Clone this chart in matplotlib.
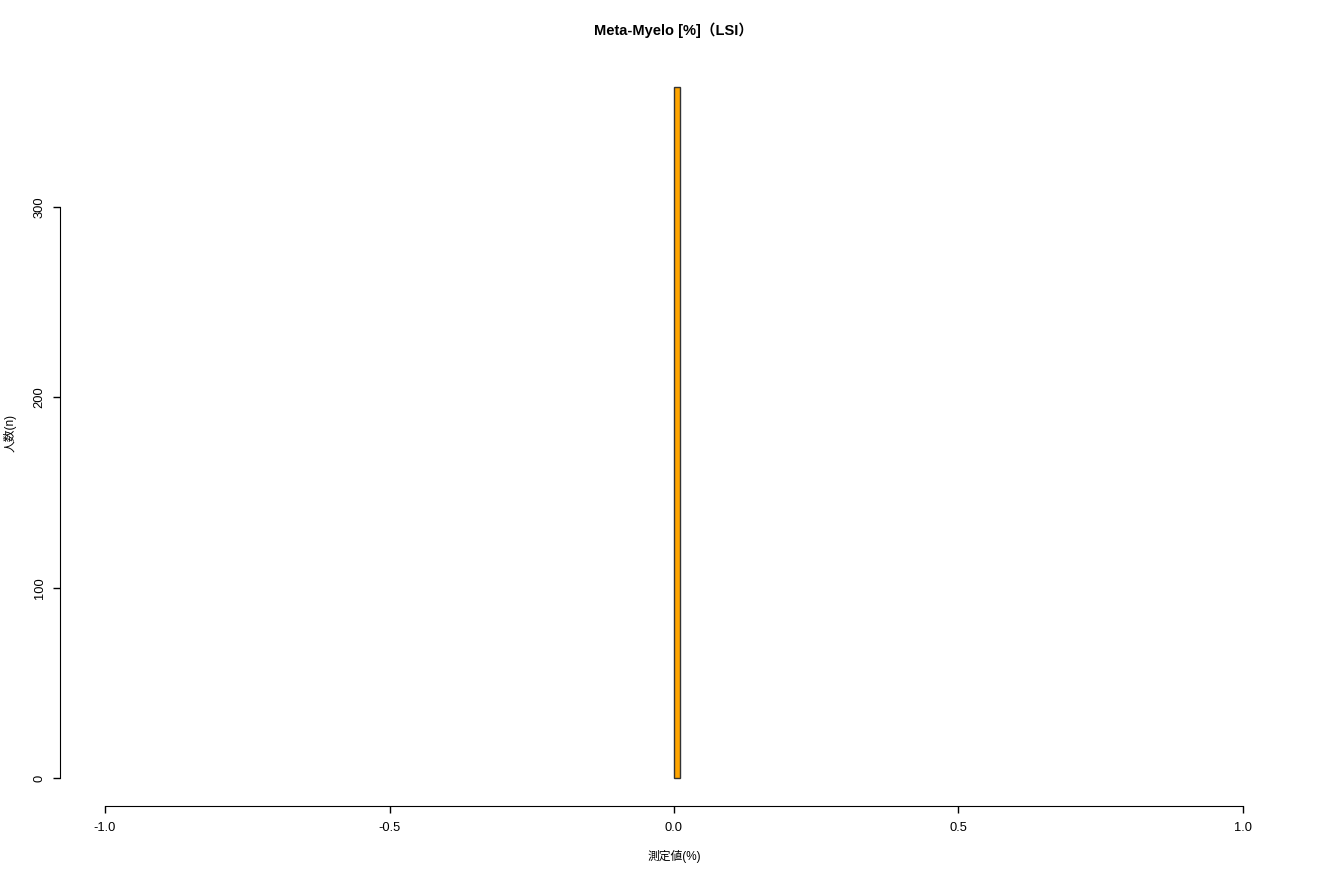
import matplotlib
matplotlib.use("Agg")
import matplotlib.pyplot as plt

plt.rcParams['font.family'] = ['Liberation Sans', 'Noto Sans CJK JP', 'DejaVu Sans']

# histogram data
bin_edges = [0.0, 0.01]
counts = [363]
x_ticks = [-1.0, -0.5, 0.0, 0.5, 1.0]
x_ticklabels = ["-1.0", "-0.5", "0.0", "0.5", "1.0"]
y_ticks = [0, 100, 200, 300]

fig = plt.figure(figsize=(13.2, 8.8), dpi=100)
ax = fig.add_axes([0.0451, 0.0845, 0.9310, 0.8478])

lefts = bin_edges[:-1]
widths = [b - a for a, b in zip(bin_edges[:-1], bin_edges[1:])]
ax.bar(lefts, counts, width=widths, align='edge', color='#FFA500',
       edgecolor='#333333', linewidth=1.0)

ax.set_xlim(-1.08, 1.08)
ax.set_ylim(-0.04 * 363, 363 * 1.04)

for s in ['top', 'right']:
    ax.spines[s].set_visible(False)
ax.spines['left'].set_bounds(0, 300)
ax.spines['bottom'].set_bounds(-1, 1)

ax.set_xticks(x_ticks)
ax.set_xticklabels(x_ticklabels)
ax.set_yticks(y_ticks)
ax.set_yticklabels([str(v) for v in y_ticks], rotation=90, va='center')
ax.tick_params(axis='both', direction='out', length=5, width=1, labelsize=9.3)
ax.tick_params(axis='x', pad=6.5)
ax.tick_params(axis='y', pad=5)

ax.set_title("Meta-Myelo [%]（LSI）", fontsize=10.5, fontweight='bold', pad=18)
ax.set_xlabel("測定値(%)", fontsize=8.5, labelpad=12)
ax.set_ylabel("人数(n)", fontsize=8.5, labelpad=12)

fig.savefig("out.png", dpi=100)
